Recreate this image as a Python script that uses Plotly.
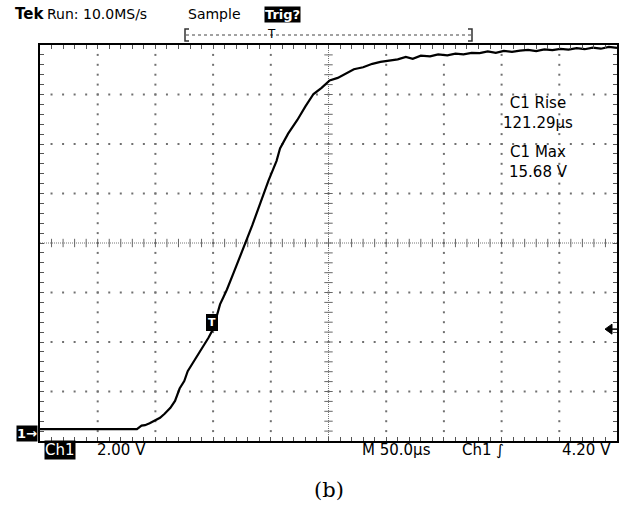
import numpy as np
import plotly.graph_objects as go

# ---------------- data ----------------
t_us = [-150, -66, -62, -59, -55, -50, -46, -42, -37, -33,
        -29, -25, -22, -18, -14, -11, -7, -4, 0, 3,
        6, 9, 12, 18, 24, 28, 34, 41, 48, 55,
        58, 65, 73, 80, 87, 94, 101, 108, 116, 122,
        130, 138, 145, 152, 160, 167, 173, 180, 188, 195,
        203, 210, 217, 224, 231, 238, 245, 252, 259, 266,
        273, 280, 287, 294, 301, 308, 315, 322, 329, 336,
        343, 350]
volts = [0.16, 0.16, 0.30, 0.32, 0.40, 0.52, 0.62, 0.78, 1.02, 1.30,
         1.80, 2.10, 2.50, 2.80, 3.10, 3.30, 3.60, 3.85, 4.20, 4.70,
         5.20, 5.50, 5.80, 6.50, 7.20, 7.70, 8.40, 9.30, 10.20, 11.00,
         11.50, 12.10, 12.65, 13.20, 13.70, 13.95, 14.25, 14.35, 14.55, 14.70,
         14.78, 14.92, 15.00, 15.05, 15.10, 15.20, 15.12, 15.25, 15.22, 15.30,
         15.26, 15.33, 15.30, 15.36, 15.35, 15.42, 15.36, 15.44, 15.40, 15.45,
         15.48, 15.43, 15.50, 15.47, 15.52, 15.49, 15.55, 15.51, 15.57, 15.53,
         15.60, 15.56]

volts_per_div = 2.00
us_per_div = 50.0
sample_rate = "10.0MS/s"
trigger_level = 4.20
rise_time_us = 121.29
max_volts = 15.68
x_divs, y_divs = 10, 8
x_start = -150.0          # time at left edge (trigger at 0)
y_start = -0.32           # volts at bottom edge

# ---------------- geometry ----------------
W, H = 622, 509
L, R, T, B = 40, 617, 45, 441

def px(x):
    return (x - L) / (R - L)

def py(y):
    return (B - y) / (B - T)

x_end = x_start + x_divs * us_per_div
y_end = y_start + y_divs * volts_per_div
x_center = x_start + x_divs / 2 * us_per_div
y_center = y_start + y_divs / 2 * volts_per_div
x_sub = us_per_div / 5
y_sub = volts_per_div / 5

fig = go.Figure()

# graticule dots
gx, gy = [], []
for k in range(1, x_divs):
    xv = x_start + k * us_per_div
    if abs(xv - x_center) < 1e-9:
        continue
    for j in range(1, y_divs * 5):
        gx.append(xv)
        gy.append(y_start + j * y_sub)
for k in range(1, y_divs):
    yv = y_start + k * volts_per_div
    if abs(yv - y_center) < 1e-9:
        continue
    for j in range(1, x_divs * 5):
        gx.append(x_start + j * x_sub)
        gy.append(yv)
fig.add_trace(go.Scatter(x=gx, y=gy, mode="markers",
                         marker=dict(symbol="square", size=2, color="#707070"),
                         hoverinfo="skip", showlegend=False))

# center cross lines
fig.add_trace(go.Scatter(x=[x_start, x_end], y=[y_center, y_center], mode="lines",
                         line=dict(color="#777777", width=1, dash="1px,1px"),
                         hoverinfo="skip", showlegend=False))
fig.add_trace(go.Scatter(x=[x_center, x_center], y=[y_start, y_end], mode="lines",
                         line=dict(color="#777777", width=1, dash="1px,1px"),
                         hoverinfo="skip", showlegend=False))
cx_ticks = [x_start + j * x_sub for j in range(1, x_divs * 5)]
fig.add_trace(go.Scatter(x=cx_ticks, y=[y_center] * len(cx_ticks), mode="markers",
                         marker=dict(symbol="line-ns", size=6,
                                     line=dict(color="#666666", width=1)),
                         hoverinfo="skip", showlegend=False))
cy_ticks = [y_start + j * y_sub for j in range(1, y_divs * 5)]
fig.add_trace(go.Scatter(x=[x_center] * len(cy_ticks), y=cy_ticks, mode="markers",
                         marker=dict(symbol="line-ew", size=6,
                                     line=dict(color="#666666", width=1)),
                         hoverinfo="skip", showlegend=False))

# waveform
fig.add_trace(go.Scatter(x=t_us, y=volts, mode="lines",
                         line=dict(color="black", width=2.2),
                         hoverinfo="skip", showlegend=False))

axis_common = dict(showgrid=False, zeroline=False, showline=True, linecolor="black",
                   linewidth=2, mirror="ticks", ticks="inside", ticklen=4,
                   tickcolor="#555555", tickwidth=1, showticklabels=False,
                   fixedrange=True, automargin=False)
fig.update_xaxes(range=[x_start, x_end], tick0=x_start, dtick=x_sub, **axis_common)
fig.update_yaxes(range=[y_start, y_end], tick0=y_start, dtick=y_sub, **axis_common)

mono = "DejaVu Sans"
ann = []

def txt(x, y, s, size=15, anchor="left", color="black", bg=None, bold=False,
        family=mono, xref="paper", yref="paper"):
    if bold:
        s = "<b>" + s + "</b>"
    d = dict(x=x, y=y, xref=xref, yref=yref, text=s, showarrow=False,
             xanchor=anchor, yanchor="middle",
             font=dict(family=family, size=size, color=color))
    if bg:
        d.update(bgcolor=bg, borderpad=0)
    ann.append(d)

# header
txt(px(13), py(14), "Tek", size=15, bold=True)
txt(px(45), py(14), "Run: " + sample_rate, size=14)
txt(px(186), py(14), "Sample", size=14)
txt(px(264), py(14), "Trig?", size=13, color="white", bg="black", bold=True)
txt(px(271), py(34), "T", size=12, anchor="center")

# measurements
txt(px(538), py(113), f"C1 Rise<br>{rise_time_us:.2f}µs", anchor="center")
txt(px(538), py(162), f"C1 Max<br>{max_volts:.2f} V", anchor="center")

# footer
txt(px(44), py(450), "Ch1", size=15, color="white", bg="black")
txt(px(95), py(450), f"{volts_per_div:.2f} V")
txt(px(360), py(450), f"M {us_per_div:.1f}µs")
txt(px(460), py(450), "Ch1 ∫")
txt(px(613), py(450), f"{trigger_level:.2f} V", anchor="right")
txt(px(329), py(490), "(b)", size=21, anchor="center", family="DejaVu Serif")

# ground marker
ann.append(dict(x=px(38), y=0, xref="paper", yref="y", text="<b>1→</b>",
                showarrow=False, xanchor="right", yanchor="middle",
                bgcolor="black", borderpad=0,
                font=dict(family=mono, size=13, color="white")))
# trigger marker on trace
ann.append(dict(x=0, y=trigger_level, xref="x", yref="y", text="<b>T</b>",
                showarrow=False, xanchor="center", yanchor="middle",
                xshift=-1, yshift=7, bgcolor="black", borderpad=2,
                bordercolor="black", borderwidth=0,
                font=dict(family=mono, size=11, color="white")))

shapes = []
# record-length bracket
shapes.append(dict(type="line", xref="paper", yref="paper",
                   x0=px(186), x1=px(471), y0=py(35), y1=py(35),
                   line=dict(color="#444444", width=1, dash="dot")))
shapes.append(dict(type="path", xref="paper", yref="paper",
                   path=f"M {px(189)},{py(29)} L {px(185)},{py(29)} L {px(185)},{py(41)} L {px(189)},{py(41)}",
                   line=dict(color="#333333", width=1.5)))
shapes.append(dict(type="path", xref="paper", yref="paper",
                   path=f"M {px(468)},{py(29)} L {px(472)},{py(29)} L {px(472)},{py(41)} L {px(468)},{py(41)}",
                   line=dict(color="#333333", width=1.5)))
# trigger level arrow on right edge
ty = B - (trigger_level - y_start) / (y_end - y_start) * (B - T)
shapes.append(dict(type="path", xref="paper", yref="paper",
                   path=f"M {px(605)},{py(ty)} L {px(612)},{py(ty-5)} L {px(612)},{py(ty+5)} Z",
                   fillcolor="black", line=dict(color="black", width=1)))
shapes.append(dict(type="line", xref="paper", yref="paper",
                   x0=px(610), x1=px(617), y0=py(ty), y1=py(ty),
                   line=dict(color="black", width=1.5)))

fig.update_layout(width=W, height=H, margin=dict(l=L, r=W - R, t=T, b=H - B),
                  paper_bgcolor="white", plot_bgcolor="white",
                  annotations=ann, shapes=shapes, showlegend=False)

fig.write_html("out.html", config={"displayModeBar": False, "responsive": False},
               post_script="document.body.style.margin='0';document.body.style.overflow='hidden';")
